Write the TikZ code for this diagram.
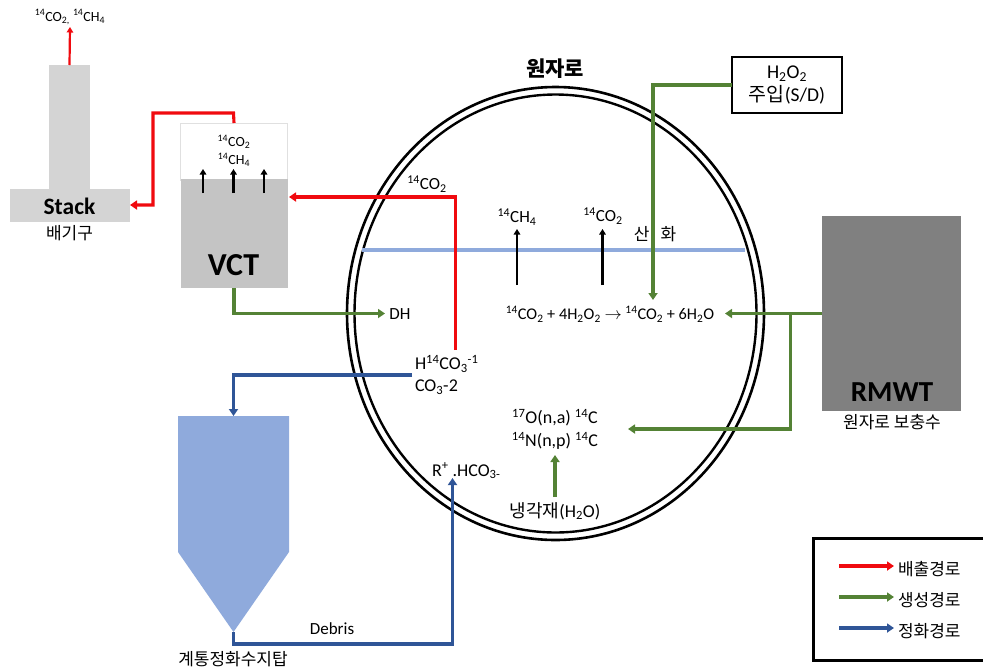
\documentclass[tikz,border=0pt]{standalone}
\usepackage{fontspec}
\setmainfont{Carlito}
\newfontfamily\kr{Noto Sans CJK KR}
\usetikzlibrary{arrows.meta,calc,shapes.geometric}
\definecolor{cred}{RGB}{240,10,15}
\definecolor{cgreen}{RGB}{84,130,53}
\definecolor{cblue}{RGB}{47,85,151}
\definecolor{cwater}{RGB}{143,170,220}
\newcommand{\sups}[1]{\textsuperscript{#1}}
\newcommand{\subs}[1]{\textsubscript{#1}}
\tikzset{
  x=1pt,y=-1pt,
  flow/.style={line width=3.1pt,-{Triangle[length=7pt,width=9pt]},line join=miter},
  redflow/.style={flow,draw=cred},
  greenflow/.style={flow,draw=cgreen},
  blueflow/.style={flow,draw=cblue},
  blackup/.style={line width=2.2pt,-{Triangle[length=5.5pt,width=6.5pt]},draw=black},
  block/.style={draw=none,inner sep=0pt,outer sep=0pt,anchor=north west},
  lbl/.style={inner sep=0pt,outer sep=0pt,font=\fontsize{17}{20}\selectfont,align=center},
  small/.style={lbl,font=\fontsize{14}{17}\selectfont},
  big/.style={lbl,font=\fontsize{18}{21}\selectfont},
  krl/.style={lbl,font=\kr\fontsize{17}{20}\selectfont},
}
\begin{document}
\begin{tikzpicture}
\useasboundingbox (0,0) rectangle (983,670);
% Reactor
\node[draw=black,line width=2.6pt,ellipse,minimum width=417pt,minimum height=453pt,inner sep=0pt] (outer) at (555.5,313.5) {};
\node[draw=black,line width=2.4pt,ellipse,minimum width=402pt,minimum height=438pt,inner sep=0pt] (inner) at (555.5,313.5) {};
\node[lbl,font=\kr\bfseries\fontsize{21}{24}\selectfont] (reactor) at (555,69) {원자로};
% Water level
\coordinate (wl) at (362,250);
\coordinate (wr) at (745,250);
\draw[cwater,line width=3.2pt] (wl) -- (wr);
% Stack
\node[block,fill=black!17,minimum width=41pt,minimum height=124pt] (chimney) at (49,65) {};
\node[block,fill=black!17,minimum width=120pt,minimum height=33pt] (stackbase) at (10,189) {};
\node[lbl,font=\bfseries\fontsize{23.5}{26}\selectfont] (stacklbl) at (69.5,206.5) {Stack};
\node[krl] (stackkr) at (69.5,233) {배기구};
\node[small] (stackout) at (70,17) {\sups{14}CO\subs{2,} \sups{14}CH\subs{4}};
\coordinate (stacktip) at (70,27);
\draw[cred,line width=2.2pt,-{Triangle[length=5.5pt,width=6.5pt]}] (chimney.north) -- (stacktip);
% VCT
\node[block,draw=black!12,line width=.6pt,fill=white,minimum width=107pt,minimum height=57pt] (vcttop) at (180.5,123) {};
\node[block,fill=black!23,minimum width=107pt,minimum height=109pt] (vct) at (180.5,179) {};
\node[lbl,font=\bfseries\fontsize{32}{34}\selectfont] (vctlbl) at (233.5,265) {VCT};
\node[small] (vctco) at (234,142) {\sups{14}CO\subs{2}};
\node[small] (vctch) at (234,160) {\sups{14}CH\subs{4}};
\foreach \n/\xx in {a/203,b/233.5,c/264}{
  \coordinate (v\n s) at (\xx,193);
  \coordinate (v\n e) at (\xx,169);
  \draw[blackup] (v\n s) -- (v\n e);
}
% RMWT
\node[block,fill=black!50,minimum width=139pt,minimum height=195pt] (rmwt) at (822,216) {};
\node[lbl,font=\bfseries\fontsize{29}{31}\selectfont] (rmwtlbl) at (892,392) {RMWT};
\node[krl] (rmwtkr) at (892,422) {원자로 보충수};
% Tower
\node[block,minimum width=111pt,minimum height=216pt] (tower) at (178,416) {};
\fill[cwater] (tower.north west) -- (tower.north east) -- (289,552) -- (233.5,632) -- (178,552) -- cycle;
\node[krl] (towerlbl) at (233,659) {계통정화수지탑};
% H2O2
\node[block,draw=black,line width=2.8pt,minimum width=110pt,minimum height=56pt] (inj) at (732,57) {};
\node[lbl,font=\fontsize{19.5}{22}\selectfont] (injlbl) at (787,85) {H\subs{2}O\subs{2}\\[1pt]{\kr 주입}(S/D)};
% Texts inside reactor
\node[lbl] (co2a) at (427,184) {\sups{14}CO\subs{2}};
\node[lbl] (ch4) at (517,217) {\sups{14}CH\subs{4}};
\node[lbl] (co2b) at (603,216) {\sups{14}CO\subs{2}};
\node[krl] (ox) at (655,234) {산\hspace{11pt}화};
\node[lbl] (dh) at (400,314) {DH};
\node[lbl,font=\fontsize{16.3}{20}\selectfont] (rxn) at (610,314) {\sups{14}CO\subs{2} + 4H\subs{2}O\subs{2} $\rightarrow$ \sups{14}CO\subs{2} + 6H\subs{2}O};
\node[big,anchor=west] (hco) at (415,364) {H\sups{14}CO\subs{3}\sups{-1}};
\node[big,anchor=west] (coo) at (415,387) {CO\subs{3}-2};
\node[big] (nuca) at (555,418) {\sups{17}O(n,a) \sups{14}C};
\node[big] (nucb) at (555,441) {\sups{14}N(n,p) \sups{14}C};
\node[big,anchor=west] (resin) at (432,471) {R\sups{+} .HCO\subs{3-}};
\node[big] (cool) at (555,511) {{\kr 냉각재}(H\subs{2}O)};
\node[lbl] (debris) at (332,629) {Debris};
% Black arrows in reactor
\coordinate (ars) at (517,285);
\coordinate (are) at (517,229);
\coordinate (brs) at (602.5,285);
\coordinate (bre) at (602.5,229);
\draw[blackup] (ars) -- (are);
\draw[blackup] (brs) -- (bre);
% Connectors
\coordinate (vctin) at (289,197);
\coordinate (stackin) at (130,205);
\coordinate (vctup) at (233.5,113);
\coordinate (redcorner) at (153,113);
\coordinate (redlow) at (153,205);
\coordinate (src) at (455.5,350);
\coordinate (dhin) at (385,313.5);
\coordinate (injout) at (732,85);
\coordinate (rxnin) at (653,300);
\coordinate (rxnr) at (725,313.5);
\coordinate (rmwtl) at (822,313.5);
\coordinate (branch) at (790.5,313.5);
\coordinate (nucin) at (628,429);
\coordinate (coolup) at (555,455);
\coordinate (coolst) at (555,497);
\coordinate (hcoout) at (412,375);
\coordinate (towerin) at (233.5,416);
\coordinate (towerb) at (233.5,632);
\coordinate (bluelow) at (452.5,644);
\coordinate (resinin) at (452.5,478);
\draw[redflow] (vcttop.north) -- (vctup) -- (redcorner) -- (redlow) -- (stackin);
\draw[redflow] (src) |- (vctin);
\draw[greenflow] (vct.south) |- (dhin);
\draw[greenflow] (injout) -| (rxnin);
\draw[greenflow] (rmwtl) -- (rxnr);
\draw[greenflow] (branch) |- (nucin);
\draw[greenflow] (coolst) -- (coolup);
\draw[blueflow] (hcoout) -| (towerin);
\draw[blueflow] (towerb) |- (bluelow) -- (resinin);
% Legend
\coordinate (lgtr) at (984,538.5);
\coordinate (lgbr) at (984,660.5);
\coordinate (lgtl) at (813.5,538.5);
\coordinate (lgbl) at (813.5,660.5);
\draw[black,line width=2.6pt] (lgtr) -- (lgtl) -- (lgbl) -- (lgbr);
\foreach \n/\cc/\yy/\tx in {r/cred/566/배출경로,g/cgreen/597/생성경로,b/cblue/628/정화경로}{
  \coordinate (l\n s) at (839,\yy);
  \coordinate (l\n e) at (894,\yy);
  \draw[flow,draw=\cc] (l\n s) -- (l\n e);
  \node[krl,anchor=west] (l\n t) at (898,\yy+3) {\tx};
}
\end{tikzpicture}
\end{document}
